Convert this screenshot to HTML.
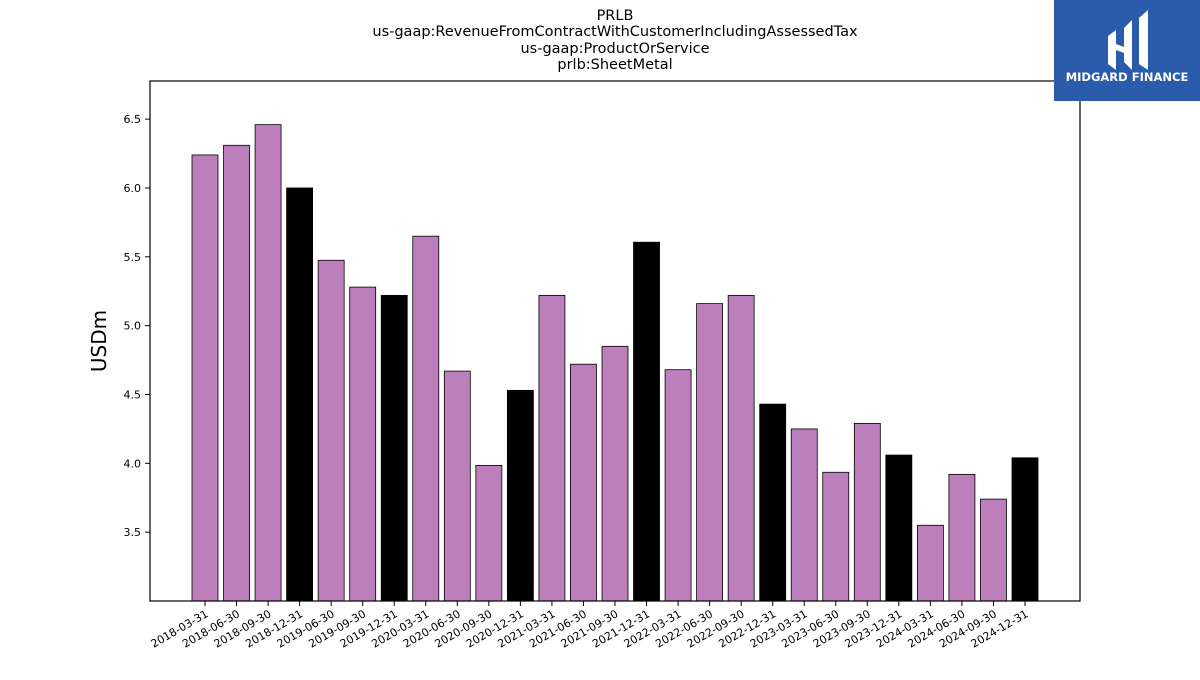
<!DOCTYPE html>
<html><head><meta charset="utf-8"><style>
body{margin:0;background:#fff;font-family:"Liberation Sans",sans-serif;}
svg text{font-family:"DejaVu Sans","Liberation Sans",sans-serif;}
</style></head><body>
<svg id="chart" width="1200" height="675" viewBox="0 0 1200 675" xmlns="http://www.w3.org/2000/svg">
<g font-size="14.5" text-anchor="middle" fill="#000">
<text x="615" y="20">PRLB</text>
<text x="615" y="36">us-gaap:RevenueFromContractWithCustomerIncludingAssessedTax</text>
<text x="615" y="53">us-gaap:ProductOrService</text>
<text x="615" y="69">prlb:SheetMetal</text>
</g>
<g id="bars"></g>
<g id="yticks"></g>
<g id="xticks"></g>
<rect x="150" y="81" width="930" height="520" fill="none" stroke="#000" stroke-width="1.2"/>
<text x="106" y="341" font-size="20" text-anchor="middle" transform="rotate(-90 106 341)">USDm</text>
<g>
<rect x="1054" y="0" width="146" height="101" fill="#2b5bab"/>
<path d="M1108 36 L1116 30 L1116 70 L1108 64 Z" fill="#fff"/>
<path d="M1124 28 L1132 20 L1132 70 L1124 62 Z" fill="#fff"/>
<path d="M1139 18 L1148 10 L1148 70 L1139 64 Z" fill="#fff"/>
<path d="M1116 44 L1132 50 L1132 56 L1116 50 Z" fill="#fff"/>
<text x="1127" y="81" font-size="11.5" font-weight="bold" fill="#fff" text-anchor="middle">MIDGARD FINANCE</text>
</g>
</svg>
<script>
const categories=["2018-03-31","2018-06-30","2018-09-30","2018-12-31","2019-06-30","2019-09-30","2019-12-31","2020-03-31","2020-06-30","2020-09-30","2020-12-31","2021-03-31","2021-06-30","2021-09-30","2021-12-31","2022-03-31","2022-06-30","2022-09-30","2022-12-31","2023-03-31","2023-06-30","2023-09-30","2023-12-31","2024-03-31","2024-06-30","2024-09-30","2024-12-31"];
const values=[6.24,6.31,6.46,6.0,5.475,5.28,5.22,5.65,4.67,3.985,4.53,5.22,4.72,4.85,5.606,4.68,5.16,5.22,4.43,4.25,3.935,4.29,4.06,3.55,3.92,3.74,4.04];
const yTicks=[3.5,4.0,4.5,5.0,5.5,6.0,6.5];
const NS="http://www.w3.org/2000/svg";
const yMin=3.0,yMax=6.777,plotTop=81,plotBot=601;
function yS(v){return plotBot-(v-yMin)/(yMax-yMin)*(plotBot-plotTop);}
const x0=205,step=(1025-205)/26;
function xS(i){return x0+i*step;}
const gb=document.getElementById('bars'),gy=document.getElementById('yticks'),gx=document.getElementById('xticks');
function mk(t,a){const e=document.createElementNS(NS,t);for(const k in a)e.setAttribute(k,a[k]);return e;}
values.forEach((v,i)=>{
 const q4=categories[i].endsWith('12-31');
 const r=mk('rect',{x:xS(i)-13,y:yS(v),width:26,height:plotBot-yS(v),fill:q4?'#000':'#bc7fbc',stroke:'#000','stroke-width':0.8});
 
 
 gb.appendChild(r);
});
yTicks.forEach(t=>{
 const l=mk('line',{x1:145,x2:150,y1:yS(t),y2:yS(t),stroke:'#000'});
 
 
 gy.appendChild(l);
 const tx=mk('text',{x:141,y:yS(t)+4,'font-size':11,'text-anchor':'end'});
 tx.textContent=t.toFixed(1);
 
 
 gy.appendChild(tx);
});
categories.forEach((c,i)=>{
 const l=mk('line',{x1:xS(i),x2:xS(i),y1:601,y2:606,stroke:'#000'});
 
 
 gx.appendChild(l);
 const tx=mk('text',{x:xS(i)+4,y:616,'font-size':11,'text-anchor':'end',transform:`rotate(-30 ${xS(i)+4} 616)`});
 tx.textContent=c;
 
 
 gx.appendChild(tx);
});
</script>
</body></html>
